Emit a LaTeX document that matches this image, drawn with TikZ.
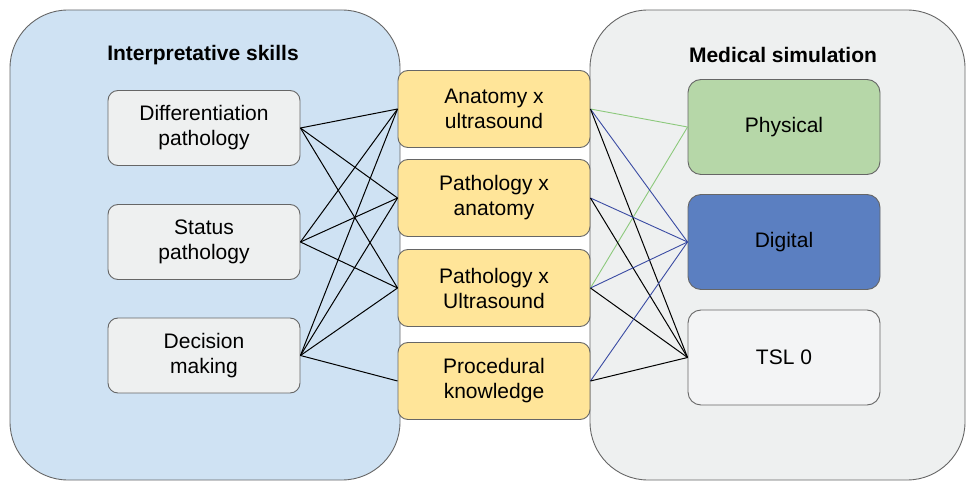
\documentclass[tikz,border=0pt]{standalone}
\usepackage{fontspec}
\setmainfont{Liberation Sans}
\definecolor{leftbg}{HTML}{CFE2F3}
\definecolor{rightbg}{HTML}{EEF0F0}
\definecolor{graybox}{HTML}{EEF0F0}
\definecolor{yellowbox}{HTML}{FFE599}
\definecolor{greenbox}{HTML}{B6D7A8}
\definecolor{bluebox}{HTML}{5B7FC1}
\definecolor{whitebox}{HTML}{F3F4F5}
\definecolor{edge}{HTML}{666666}
\definecolor{gline}{HTML}{8CC97C}
\definecolor{bline}{HTML}{3A4BA3}
\tikzset{
  container/.style={draw=edge, line width=0.9pt, rounded corners=58pt},
  box/.style={draw=edge, line width=0.9pt, rounded corners=10pt, minimum width=192pt, align=center, font=\fontsize{21}{25}\selectfont, inner sep=0pt},
  lbox/.style={box, fill=graybox, minimum height=75pt},
  ybox/.style={box, fill=yellowbox, minimum height=77pt},
  rbox/.style={box, rounded corners=13pt, minimum height=95pt},
  title/.style={font=\bfseries\fontsize{21}{25}\selectfont},
  conn/.style={line width=1pt, black},
  gconn/.style={line width=0.9pt, gline},
  bconn/.style={line width=0.9pt, bline},
}
\begin{document}
\begin{tikzpicture}[x=1pt,y=-1pt]
\useasboundingbox (0,0) rectangle (967,481);
\draw[container, fill=leftbg] (10,10) rectangle (400,480);
\draw[container, fill=rightbg] (590,10) rectangle (965,480);
\node[title] (t1) at (203,55) {Interpretative skills};
\node[title] (t2) at (783,55) {Medical simulation};
% left boxes
\node[lbox] (l1) at (204,128) {Differentiation\\pathology};
\node[lbox] (l2) at (204,242) {Status\\pathology};
\node[lbox] (l3) at (204,355.5) {Decision\\making};
% yellow
\node[ybox] (y1) at (494,109) {Anatomy x\\ultrasound};
\node[ybox] (y2) at (494,198) {Pathology x\\anatomy};
\node[ybox] (y3) at (494,288) {Pathology x\\Ultrasound};
\node[ybox] (y4) at (494,381) {Procedural\\knowledge};
% right
\node[rbox, fill=greenbox] (r1) at (784,127) {Physical};
\node[rbox, fill=bluebox] (r2) at (784,242) {Digital};
\node[rbox, fill=whitebox] (r3) at (784,357.5) {TSL 0};
% left connectors
\foreach \a in {l1,l2,l3}{
  \foreach \b in {y1,y2,y3}{
    \draw[conn] (\a.east) -- (\b.west);
  }
}
\draw[conn] (l3.east) -- (y4.west);
% right connectors
\draw[gconn] (y1.east) -- (r1.west);
\draw[gconn] (y3.east) -- (r1.west);
\foreach \a in {y1,y2,y3,y4}{
  \draw[bconn] (\a.east) -- (r2.west);
  \draw[conn] (\a.east) -- (r3.west);
}
\end{tikzpicture}
\end{document}
